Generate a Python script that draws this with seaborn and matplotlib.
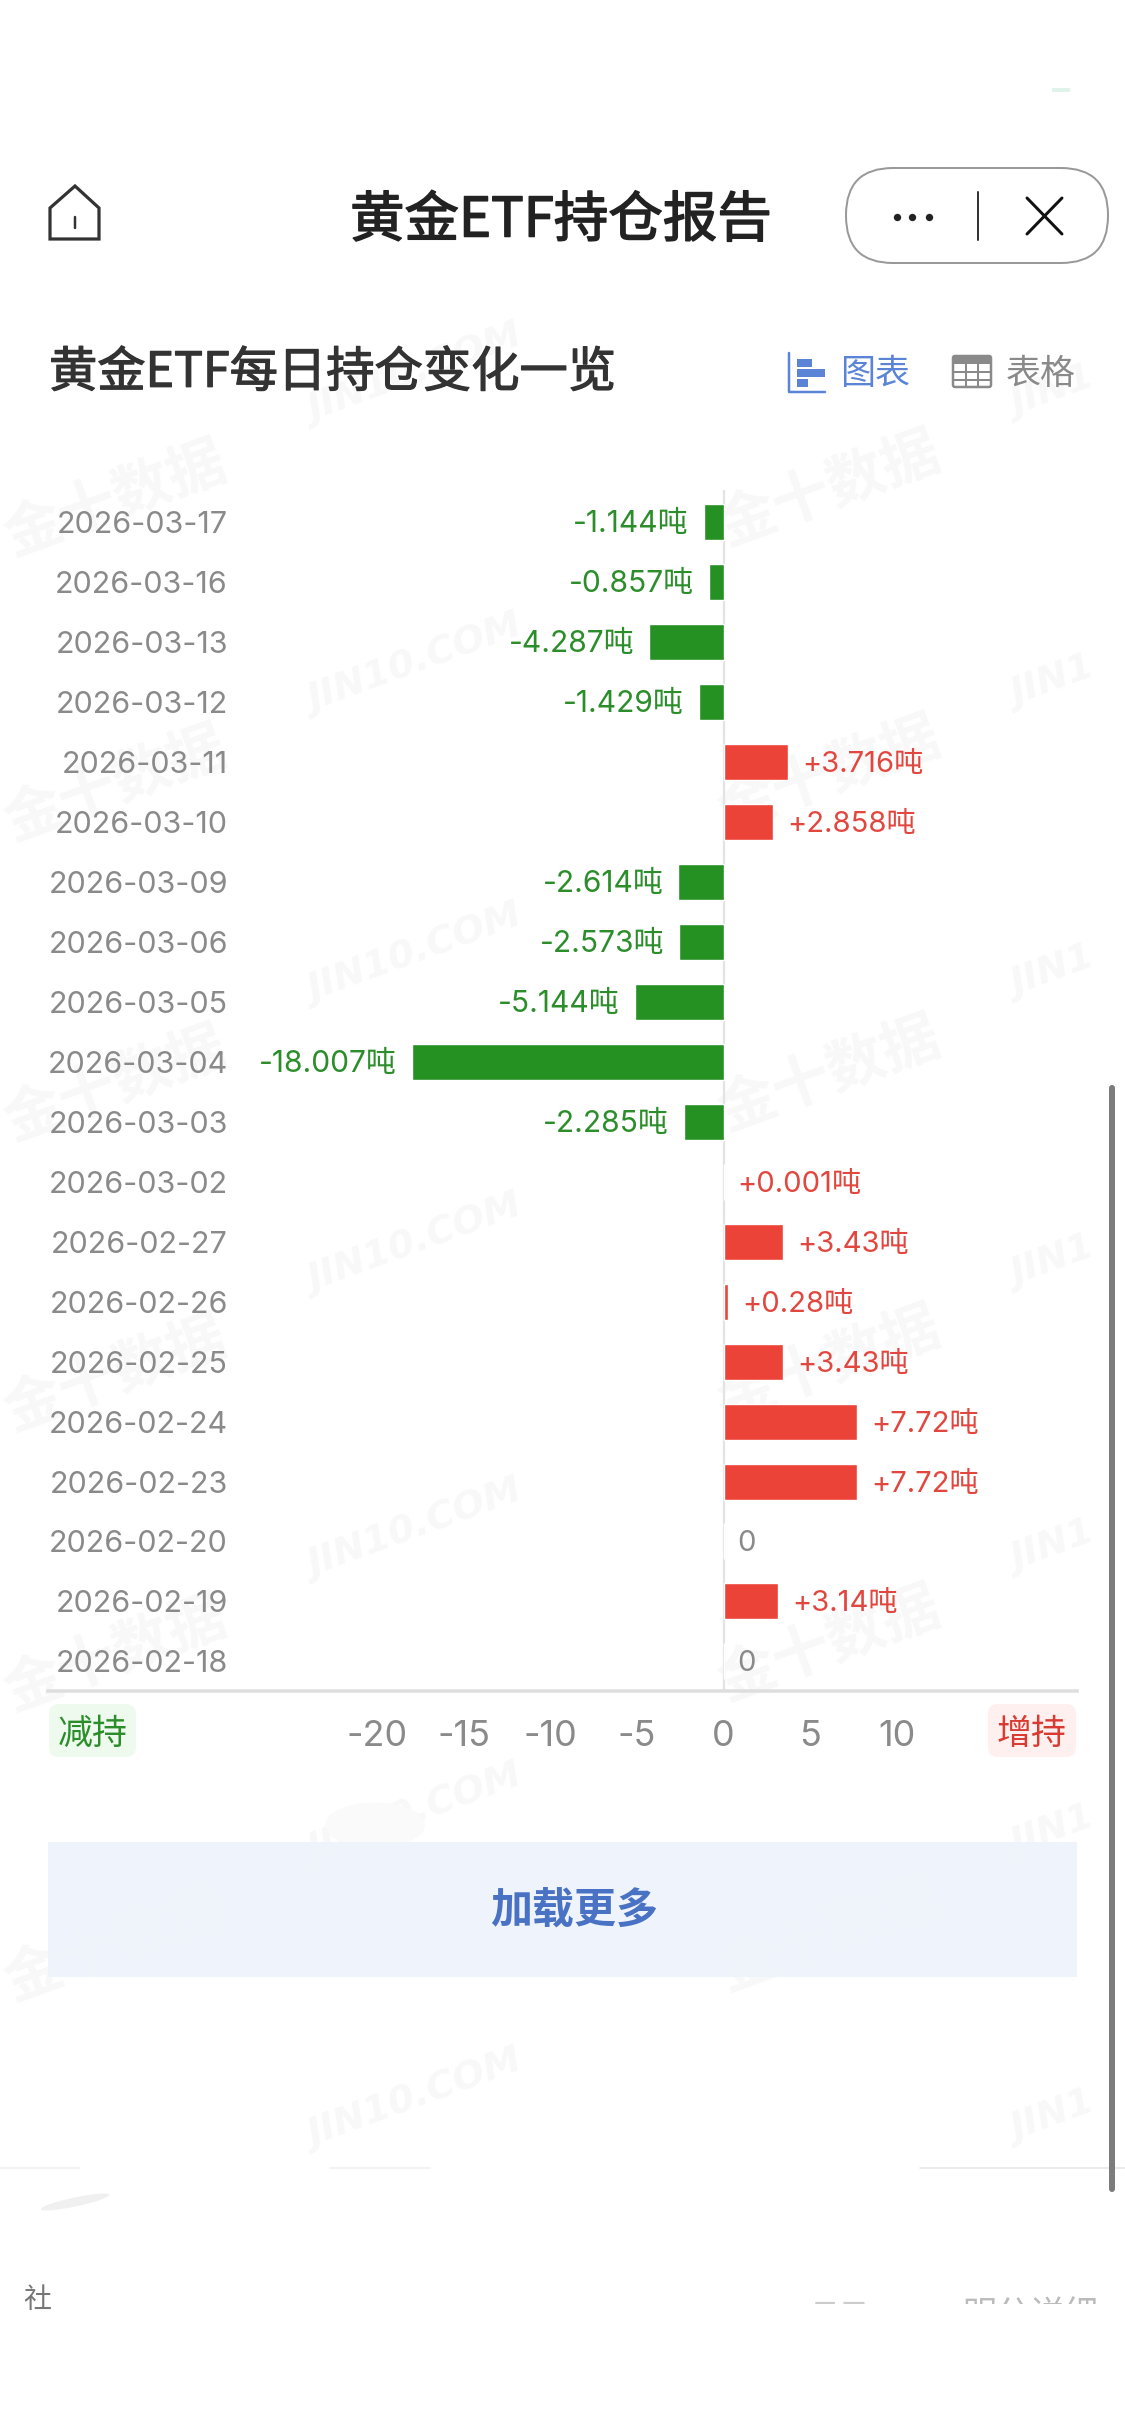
import matplotlib
matplotlib.use("Agg")
import matplotlib.pyplot as plt
import matplotlib.patheffects as pe
import pandas as pd
import seaborn as sns
from matplotlib.patches import FancyBboxPatch, Polygon, Rectangle, Ellipse

# ---------- data ----------
dates = ["2026-03-17", "2026-03-16", "2026-03-13", "2026-03-12", "2026-03-11",
         "2026-03-10", "2026-03-09", "2026-03-06", "2026-03-05", "2026-03-04",
         "2026-03-03", "2026-03-02", "2026-02-27", "2026-02-26", "2026-02-25",
         "2026-02-24", "2026-02-23", "2026-02-20", "2026-02-19", "2026-02-18"]
changes = [-1.144, -0.857, -4.287, -1.429, 3.716,
           2.858, -2.614, -2.573, -5.144, -18.007,
           -2.285, 0.001, 3.43, 0.28, 3.43,
           7.72, 7.72, 0, 3.14, 0]
x_ticks = [-20, -15, -10, -5, 0, 5, 10]
x_tick_labels = ["-20", "-15", "-10", "-5", "0", "5", "10"]
title_text = "黄金ETF持仓报告"
subtitle_text = "黄金ETF每日持仓变化一览"

# ---------- style ----------
sns.set_theme(style="white")
CJK = "Noto Sans CJK SC"
LIGHT = ["Inter", CJK, "DejaVu Sans"]
plt.rcParams["font.family"] = [CJK, "DejaVu Sans"]
GREEN, RED = "#269123", "#ec4338"
GREEN_T, RED_T = "#2c8e2a", "#e2473f"
GREY = "#8a8a8a"
BLUE = "#5b84d6"
W, H = 1125, 2436
PT = 72 / 100  # px -> pt at dpi 100

fig = plt.figure(figsize=(W / 100, H / 100), dpi=100, facecolor="white")

# page layer in pixel coordinates: watermark and app chrome
bg = fig.add_axes([0, 0, 1, 1], zorder=0)
bg.set_xlim(0, W)
bg.set_ylim(H, 0)
bg.axis("off")

WM = "#f8f8f8"
for y in [500, 785, 1085, 1375, 1655, 1945]:
    for x in [116, 830]:
        bg.text(x, y - (10 if x > 500 else 0), "金十数据", color=WM, fontsize=58 * PT,
                fontweight="bold", rotation=20, ha="center", va="center", zorder=1)
for y in [375, 665, 955, 1245, 1530, 1815, 2100]:
    bg.text(415, y, "JIN10.COM", color=WM, fontsize=38 * PT, fontweight="bold",
            style="italic", family="DejaVu Sans", rotation=20,
            ha="center", va="center", zorder=1)
    bg.text(1012, y + 32, "JIN1", color=WM, fontsize=38 * PT, fontweight="bold",
            style="italic", family="DejaVu Sans", rotation=20, rotation_mode="anchor",
            ha="left", va="center", zorder=1)
bg.add_patch(Ellipse((375, 1825), 100, 45, color="#fafafa", lw=0, zorder=1))

# status bar remnant
bg.add_patch(Rectangle((1052, 88), 18, 4, color="#dff3e8", lw=0, zorder=2))

# navigation bar
bg.text(561, 221, title_text, color="#222222", fontsize=54.5 * PT, fontweight="medium",
        ha="center", va="center", zorder=3,
        path_effects=[pe.withStroke(linewidth=1.1, foreground="#222222")])
bg.add_patch(Polygon([(50, 239), (50, 208), (75, 186), (99, 208), (99, 239)], closed=True,
                     fill=False, ec="#333333", lw=3.2 * PT, joinstyle="miter", zorder=3))
bg.plot([75, 75], [217, 228], color="#333333", lw=2.5 * PT, zorder=3)
bg.add_patch(FancyBboxPatch((846 + 47, 168 + 47), 262 - 94, 1,
                            boxstyle="round,pad=47,rounding_size=47",
                            fc="white", ec="#999999", lw=2 * PT, zorder=3))
bg.scatter([897, 912, 929], [217, 217, 217], s=28, color="#222222", lw=0, zorder=4)
bg.plot([978, 978], [192, 240], color="#333333", lw=2 * PT, zorder=4)
bg.plot([1027, 1062], [198, 234], color="#111111", lw=3 * PT, zorder=4)
bg.plot([1062, 1027], [198, 234], color="#111111", lw=3 * PT, zorder=4)

# section header
bg.text(49, 373, subtitle_text, color="#333333", fontsize=48.3 * PT, fontweight="medium",
        ha="left", va="center", zorder=3,
        path_effects=[pe.withStroke(linewidth=0.9, foreground="#333333")])
bg.plot([789, 789, 825], [353, 392, 392], color=BLUE, lw=2.5 * PT, zorder=3)
for yy, xx in [(363, 812), (373, 825), (383, 808)]:
    bg.add_patch(Rectangle((797, yy - 4), xx - 797, 8, color=BLUE, lw=0, zorder=3))
bg.text(875, 374, "图表", color=BLUE, fontsize=35 * PT, ha="center", va="center", zorder=3)
bg.add_patch(FancyBboxPatch((953, 356), 38, 31, boxstyle="round,pad=0,rounding_size=2",
                            fc="white", ec=GREY, lw=2.5 * PT, zorder=3))
bg.add_patch(Rectangle((953, 356), 38, 8, color=GREY, lw=0, zorder=3))
for xx in [966, 978]:
    bg.plot([xx, xx], [364, 387], color=GREY, lw=2 * PT, zorder=4)
for yy in [372, 380]:
    bg.plot([953, 991], [yy, yy], color=GREY, lw=2 * PT, zorder=4)
bg.text(1041, 374, "表格", color=GREY, fontsize=35 * PT, ha="center", va="center", zorder=3)

# direction pills
bg.add_patch(FancyBboxPatch((49, 1704), 87, 53, boxstyle="round,pad=0,rounding_size=10",
                            fc="#eefaee", ec="none", zorder=2))
bg.text(92.5, 1734, "减持", color="#2c8e2a", fontsize=35 * PT, ha="center", va="center", zorder=3)
bg.add_patch(FancyBboxPatch((988, 1704), 88, 53, boxstyle="round,pad=0,rounding_size=10",
                            fc="#fdf0ef", ec="none", zorder=2))
bg.text(1032, 1734, "增持", color="#d93a32", fontsize=35 * PT, ha="center", va="center", zorder=3)

# load more button
bg.add_patch(Rectangle((48, 1842), 1029, 135, color="#eff4fc", lw=0, alpha=0.95, zorder=2))
bg.text(574, 1911, "加载更多", color="#4a72c4", fontsize=42 * PT, fontweight="bold",
        ha="center", va="center", zorder=3)

# scrollbar and page bottom remnants
bg.add_patch(FancyBboxPatch((1109, 1085), 6, 1107, boxstyle="round,pad=0,rounding_size=3",
                            fc="#7c7c7c", ec="none", zorder=5))
bg.plot([0, 80], [2168, 2168], color="#eeeeee", lw=1.5 * PT, zorder=2)
bg.plot([330, 430], [2168, 2168], color="#eeeeee", lw=1.5 * PT, zorder=2)
bg.plot([920, 1125], [2168, 2168], color="#e4e4e4", lw=1.5 * PT, zorder=2)
bg.add_patch(Ellipse((75, 2202), 70, 9, angle=-12, color="#f0f0f0", lw=0, zorder=2))
clip = Rectangle((0, 2100), W, 204, transform=bg.transData)
t1 = bg.text(37, 2300, "社", color="#777777", fontsize=28 * PT, ha="center", va="center", zorder=2)
t2 = bg.text(840, 2316, "日子", color="#cccccc", fontsize=30 * PT, ha="center", va="center", zorder=2)
t3 = bg.text(1030, 2316, "明分详细", color="#bbbbbb", fontsize=34 * PT, ha="center", va="center", zorder=2)
for t in (t2, t3):
    t.set_clip_path(clip)
    t.set_clip_on(True)

# ---------- chart ----------
PX0, PX1, PY0, PY1 = 48, 1077, 490, 1691
ax = fig.add_axes([PX0 / W, 1 - PY1 / H, (PX1 - PX0) / W, (PY1 - PY0) / H], zorder=2)
ax.patch.set_alpha(0)

df = pd.DataFrame({"date": dates, "change": changes})
df["direction"] = ["down" if v < 0 else "up" for v in changes]
sns.barplot(data=df, y="date", x="change", hue="direction", dodge=False, width=0.6,
            palette={"down": GREEN, "up": RED}, hue_order=["down", "up"],
            legend=False, saturation=1, ax=ax, zorder=3, order=dates)

K = 17.3      # px per ton
ZERO = 723.5
ROW = 59.97
ax.set_xlim((PX0 - ZERO) / K, (PX1 - ZERO) / K)
ax.set_ylim((PY1 - 522) / ROW, (PY0 - 522) / ROW)
ax.axvline(0, color="#e3e3e3", lw=2.2 * PT, zorder=1)

sns.despine(ax=ax, left=True, right=True, top=True, bottom=False)
ax.spines["bottom"].set_color("#dedede")
ax.spines["bottom"].set_linewidth(3.5 * PT)
ax.set_xlabel("")
ax.set_ylabel("")
ax.grid(False)

ax.set_xticks(x_ticks)
ax.set_xticklabels(x_tick_labels, color=GREY, fontsize=36 * PT, family=LIGHT)
ax.tick_params(axis="x", length=0, pad=29 * PT)
ax.tick_params(axis="y", length=0, pad=-(228 - PX0) * PT)
ax.set_yticks(range(len(dates)))
ax.set_yticklabels(dates, color=GREY, fontsize=30.5 * PT, family=LIGHT, ha="right")

for i, v in enumerate(changes):
    if v == 0:
        txt, col = "0", GREY
    else:
        txt = f"{v:+.3f}".rstrip("0") + "吨"
        col = GREEN_T if v < 0 else RED_T
    ax.annotate(txt, (v, i), xytext=(-15 * PT if v < 0 else 14 * PT, -2.5 * PT),
                textcoords="offset points",
                ha="right" if v < 0 else "left", va="center", color=col,
                fontsize=(30 if v < 0 else 29.2) * PT, family=LIGHT, zorder=4)

fig.savefig("out.png", dpi=100)
